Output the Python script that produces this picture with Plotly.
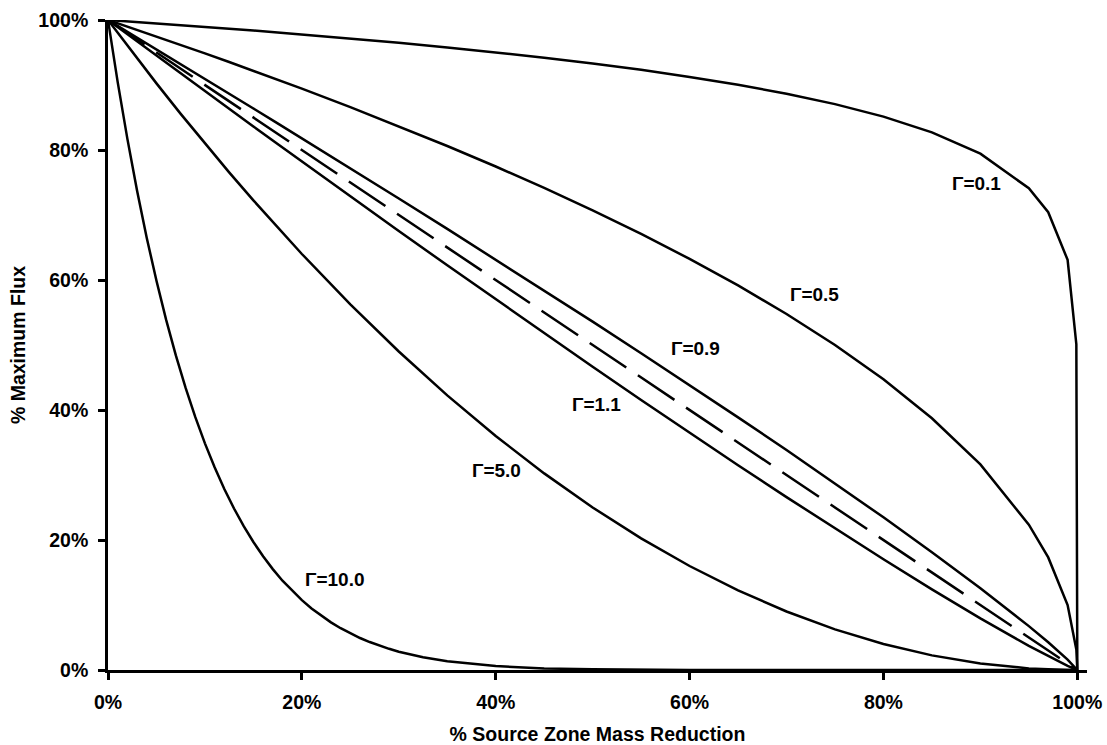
import plotly.graph_objects as go

# % source zone mass reduction (shared x grid)
mass_reduction = [0, 0.025, 0.05, 0.075, 0.1, 0.125, 0.15, 0.175, 0.2, 0.25, 0.3, 0.35,
                  0.4, 0.45, 0.5, 0.55, 0.6, 0.65, 0.7, 0.75, 0.8, 0.85, 0.9, 0.95,
                  0.97, 0.99, 0.999, 1.0]

flux_g01 = [1, 0.9975, 0.9949, 0.9922, 0.9895, 0.9867, 0.9839, 0.9809, 0.9779, 0.9716,
            0.9650, 0.9578, 0.9502, 0.9420, 0.9330, 0.9233, 0.9124, 0.9003, 0.8866,
            0.8706, 0.8513, 0.8272, 0.7943, 0.7411, 0.7043, 0.6310, 0.5012, 0]
flux_g05 = [1, 0.9874, 0.9747, 0.9618, 0.9487, 0.9354, 0.9220, 0.9083, 0.8944, 0.8660,
            0.8367, 0.8062, 0.7746, 0.7416, 0.7071, 0.6708, 0.6325, 0.5916, 0.5477,
            0.5000, 0.4472, 0.3873, 0.3162, 0.2236, 0.1732, 0.1000, 0.0316, 0]
flux_g09 = [1, 0.9775, 0.9549, 0.9322, 0.9095, 0.8868, 0.8639, 0.8410, 0.8181, 0.7719,
            0.7254, 0.6786, 0.6314, 0.5839, 0.5359, 0.4874, 0.4384, 0.3887, 0.3384,
            0.2872, 0.2349, 0.1813, 0.1259, 0.0675, 0.0426, 0.0159, 0.0020, 0]
flux_g10 = [1, 0.975, 0.95, 0.925, 0.9, 0.875, 0.85, 0.825, 0.8, 0.75, 0.7, 0.65, 0.6,
            0.55, 0.5, 0.45, 0.4, 0.35, 0.3, 0.25, 0.2, 0.15, 0.1, 0.05, 0.03, 0.01,
            0.001, 0]
flux_g11 = [1, 0.9725, 0.9451, 0.9178, 0.8906, 0.8634, 0.8363, 0.8093, 0.7823, 0.7287,
            0.6755, 0.6226, 0.5701, 0.5181, 0.4665, 0.4155, 0.3650, 0.3151, 0.2660,
            0.2176, 0.1703, 0.1241, 0.0794, 0.0370, 0.0211, 0.0063, 0.0005, 0]
flux_g50 = [1, 0.9506, 0.9025, 0.8556, 0.81, 0.7656, 0.7225, 0.6806, 0.64, 0.5625,
            0.49, 0.4225, 0.36, 0.3025, 0.25, 0.2025, 0.16, 0.1225, 0.09, 0.0625,
            0.04, 0.0225, 0.01, 0.0025, 0.0009, 0.0001, 0, 0]

# finer grid for the steep Γ=10.0 curve
mass_reduction_steep = [0, 0.01, 0.02, 0.03, 0.04, 0.05, 0.06, 0.07, 0.08, 0.09, 0.1,
                        0.11, 0.12, 0.13, 0.14, 0.15, 0.16, 0.17, 0.18, 0.19, 0.2, 0.21,
                        0.22, 0.23, 0.24, 0.25, 0.26, 0.27, 0.28, 0.29, 0.3, 0.325, 0.35,
                        0.4, 0.45, 0.5, 0.6, 0.7, 0.8, 0.9, 1.0]
flux_g100 = [1, 0.9044, 0.8171, 0.7374, 0.6648, 0.5987, 0.5386, 0.4840, 0.4344, 0.3894,
             0.3487, 0.3118, 0.2785, 0.2484, 0.2213, 0.1969, 0.1749, 0.1552, 0.1374,
             0.1216, 0.1074, 0.0947, 0.0834, 0.0733, 0.0643, 0.0563, 0.0492, 0.0430,
             0.0374, 0.0326, 0.0282, 0.0196, 0.0135, 0.0060, 0.0025, 0.0010, 0.0001,
             0, 0, 0, 0]

series = [
    ("Γ=0.1", mass_reduction, flux_g01, "solid"),
    ("Γ=0.5", mass_reduction, flux_g05, "solid"),
    ("Γ=0.9", mass_reduction, flux_g09, "solid"),
    ("Γ=1.0", mass_reduction, flux_g10, "44px,14px"),
    ("Γ=1.1", mass_reduction, flux_g11, "solid"),
    ("Γ=5.0", mass_reduction, flux_g50, "solid"),
    ("Γ=10.0", mass_reduction_steep, flux_g100, "solid"),
]

# label positions (x, y) in data units
label_text = ["Γ=0.1", "Γ=0.5", "Γ=0.9", "Γ=1.1", "Γ=5.0", "Γ=10.0"]
label_x = [0.896, 0.729, 0.606, 0.504, 0.401, 0.234]
label_y = [0.749, 0.577, 0.494, 0.409, 0.307, 0.140]

tick_vals = [0, 0.2, 0.4, 0.6, 0.8, 1.0]
tick_text = ["0%", "20%", "40%", "60%", "80%", "100%"]

FONT = "Liberation Sans, Arial, sans-serif"

fig = go.Figure()
for name, xs, ys, dash in series:
    fig.add_trace(go.Scatter(x=xs, y=ys, mode="lines", name=name,
                             line=dict(color="black", width=2.5, dash=dash),
                             showlegend=False))

for t, lx, ly in zip(label_text, label_x, label_y):
    fig.add_annotation(x=lx, y=ly, text=t, showarrow=False,
                       font=dict(size=19, color="black", family=FONT, weight="bold"),
                       xanchor="center", yanchor="middle")

axis_font = dict(size=19.5, color="black", family=FONT, weight="bold")

fig.update_layout(
    width=1107, height=745,
    margin=dict(l=108, r=20, t=20, b=75),
    paper_bgcolor="white", plot_bgcolor="white",
    font=axis_font,
    showlegend=False,
    xaxis=dict(range=[0, 1.01], tickvals=tick_vals, ticktext=tick_text,
               showgrid=False, zeroline=False, showline=True, linecolor="black",
               linewidth=2.75, ticks="outside", ticklen=7, tickwidth=2.5, tickcolor="black",
               tickfont=axis_font, ticklabelstandoff=6, automargin=False,
               ticklabeloverflow="allow",
               title=dict(text="% Source Zone Mass Reduction", font=axis_font,
                          standoff=20)),
    yaxis=dict(range=[0, 1], tickvals=tick_vals, ticktext=tick_text,
               showgrid=False, zeroline=False, showline=True, linecolor="black",
               linewidth=2.75, ticks="outside", ticklen=7, tickwidth=2.5, tickcolor="black",
               tickfont=axis_font, ticklabelstandoff=6, automargin=False,
               ticklabeloverflow="allow",
               title=dict(text="% Maximum Flux", font=axis_font, standoff=8)),
)

# remove the default 8px page margin so the figure fills the window exactly
fig.write_html("out.html",
               config={"displayModeBar": False},
               post_script="document.body.style.margin='0';document.body.style.overflow='hidden';")
